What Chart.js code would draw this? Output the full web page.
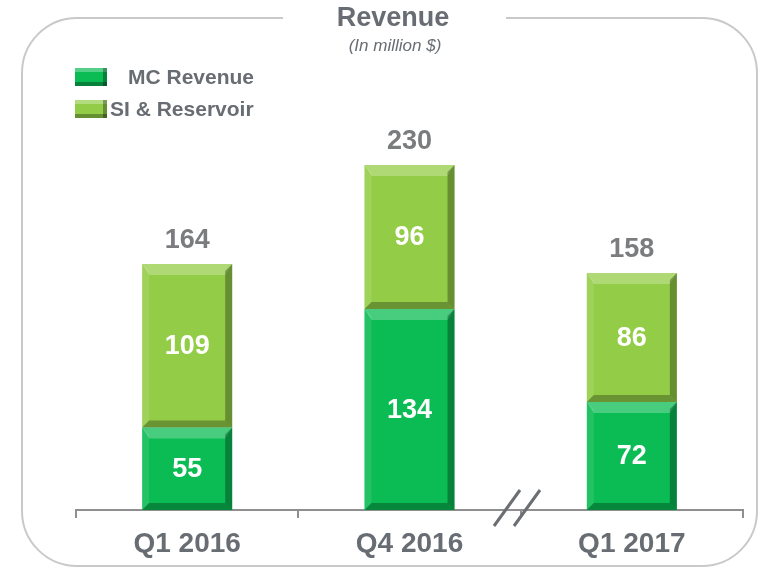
<!DOCTYPE html>
<html>
<head>
<meta charset="utf-8">
<script src="https://cdn.jsdelivr.net/npm/chart.js@4"></script>
<style>
  html, body { margin: 0; padding: 0; background: #ffffff; }
  #wrap { width: 761px; height: 572px; position: relative; }
</style>
</head>
<body>
<div id="wrap"><canvas id="revenueChart" width="761" height="572"></canvas></div>
<script>
// Chart data
const quarters = ['Q1 2016', 'Q4 2016', 'Q1 2017'];
const mcRevenue = [55, 134, 72];
const siReservoir = [109, 96, 86];
const totals = [164, 230, 158];

const GRAY = '#676d72';
const FONT = '"Liberation Sans", Arial, sans-serif';

/**
 * Rounded frame, title and the "//" axis break
 */
const framePlugin = {
    id: 'frame',
    beforeDraw(chart) {
        const ctx = chart.ctx;
        const l = 22, t = 18, r = 757, b = 566, rad = 55;
        ctx.save();
        ctx.strokeStyle = '#c9c9c9';
        ctx.lineWidth = 2;
        ctx.beginPath();
        ctx.moveTo(283, t);
        ctx.lineTo(l + rad, t);
        ctx.arcTo(l, t, l, t + rad, rad);
        ctx.lineTo(l, b - rad);
        ctx.arcTo(l, b, l + rad, b, rad);
        ctx.lineTo(r - rad, b);
        ctx.arcTo(r, b, r, b - rad, rad);
        ctx.lineTo(r, t + rad);
        ctx.arcTo(r, t, r - rad, t, rad);
        ctx.lineTo(506, t);
        ctx.stroke();

        ctx.fillStyle = GRAY;
        ctx.textAlign = 'center';
        ctx.textBaseline = 'middle';
        ctx.font = 'bold 27px ' + FONT;
        ctx.fillText('Revenue', 393, 19);
        ctx.font = 'italic 17px ' + FONT;
        ctx.fillText('(In million $)', 395, 46);
        ctx.restore();
    },
    afterDraw(chart) {
        const ctx = chart.ctx;
        ctx.save();
        ctx.strokeStyle = '#6b6f73';
        ctx.lineWidth = 3;
        ctx.beginPath();
        ctx.moveTo(494, 526); ctx.lineTo(520, 490);
        ctx.moveTo(514, 526); ctx.lineTo(540, 490);
        ctx.stroke();
        ctx.restore();
    }
};

/**
 * Bevelled look on each bar segment
 */
const bevelPlugin = {
    id: 'bevel',
    afterDatasetsDraw(chart) {
        const ctx = chart.ctx;
        const e = 7;
        chart.data.datasets.forEach((ds, i) => {
            chart.getDatasetMeta(i).data.forEach(bar => {
                const x0 = bar.x - bar.width / 2, x1 = bar.x + bar.width / 2;
                const y0 = Math.min(bar.y, bar.base), y1 = Math.max(bar.y, bar.base);
                const quad = (pts, color) => {
                    ctx.fillStyle = color;
                    ctx.beginPath();
                    ctx.moveTo(pts[0], pts[1]);
                    for (let k = 2; k < pts.length; k += 2) ctx.lineTo(pts[k], pts[k + 1]);
                    ctx.closePath();
                    ctx.fill();
                };
                ctx.save();
                quad([x0, y0, x1, y0, x1 - e, y0 + e + 4, x0 + e, y0 + e + 4], 'rgba(255,255,255,0.25)');
                quad([x0, y0, x0 + e, y0 + e, x0 + e, y1 - e, x0, y1], 'rgba(255,255,255,0.10)');
                quad([x1, y0, x1, y1, x1 - e, y1 - e, x1 - e, y0 + e], 'rgba(0,0,0,0.30)');
                quad([x0, y1, x0 + e, y1 - e, x1 - e, y1 - e, x1, y1], 'rgba(0,0,0,0.28)');
                ctx.restore();
            });
        });
    }
};

/**
 * Value labels inside segments and totals above bars
 */
const labelPlugin = {
    id: 'labels',
    afterDatasetsDraw(chart) {
        const ctx = chart.ctx;
        ctx.save();
        ctx.textAlign = 'center';
        ctx.textBaseline = 'middle';
        ctx.font = 'bold 27px ' + FONT;
        ctx.fillStyle = '#ffffff';
        chart.data.datasets.forEach((ds, i) => {
            chart.getDatasetMeta(i).data.forEach((bar, j) => {
                ctx.fillText(String(ds.data[j]), bar.x, (bar.y + bar.base) / 2 + 1);
            });
        });
        const top = chart.getDatasetMeta(chart.data.datasets.length - 1).data;
        ctx.fillStyle = '#7a7c7e';
        top.forEach((bar, j) => {
            ctx.fillText(String(totals[j]), bar.x, bar.y - 23);
        });
        ctx.restore();
    }
};

/**
 * Legend in the top-left corner built from the datasets
 */
const legendPlugin = {
    id: 'cornerLegend',
    afterDraw(chart) {
        const ctx = chart.ctx;
        const rows = [{ x: 128, y: 78 }, { x: 110, y: 110 }];
        ctx.save();
        chart.data.datasets.forEach((ds, i) => {
            const bx = 75, by = rows[i].y - 10, bw = 32, bh = 18, e = 4;
            ctx.fillStyle = ds.backgroundColor;
            ctx.fillRect(bx, by, bw, bh);
            ctx.fillStyle = 'rgba(255,255,255,0.3)';
            ctx.fillRect(bx, by, bw, e);
            ctx.fillStyle = 'rgba(0,0,0,0.3)';
            ctx.fillRect(bx, by + bh - e, bw, e);
            ctx.fillRect(bx + bw - e, by, e, bh);
            ctx.fillStyle = GRAY;
            ctx.font = 'bold 21px ' + FONT;
            ctx.textBaseline = 'middle';
            ctx.textAlign = 'left';
            ctx.fillText(ds.label, rows[i].x, rows[i].y);
        });
        ctx.restore();
    }
};

new Chart(document.getElementById('revenueChart'), {
    type: 'bar',
    data: {
        labels: quarters,
        datasets: [
            {
                label: 'MC Revenue',
                data: mcRevenue,
                backgroundColor: '#0bbb53',
                borderWidth: 0,
                barPercentage: 0.405,
                categoryPercentage: 1
            },
            {
                label: 'SI & Reservoir',
                data: siReservoir,
                backgroundColor: '#93cd47',
                borderWidth: 0,
                barPercentage: 0.405,
                categoryPercentage: 1
            }
        ]
    },
    options: {
        responsive: false,
        animation: false,
        layout: { padding: { left: 76, right: 18, top: 60, bottom: 0 } },
        plugins: {
            legend: { display: false },
            tooltip: { enabled: false }
        },
        scales: {
            x: {
                stacked: true,
                afterFit(scale) { scale.height = 62; },
                grid: {
                    drawOnChartArea: false,
                    drawTicks: true,
                    tickLength: 8,
                    color: '#8f8f8f',
                    lineWidth: 2
                },
                border: { color: '#8f8f8f', width: 2 },
                ticks: {
                    color: GRAY,
                    padding: 9,
                    font: { family: FONT, size: 28, weight: 'bold' }
                }
            },
            y: {
                stacked: true,
                display: false,
                min: 0,
                max: 300
            }
        }
    },
    plugins: [framePlugin, bevelPlugin, labelPlugin, legendPlugin]
});
</script>
</body>
</html>
